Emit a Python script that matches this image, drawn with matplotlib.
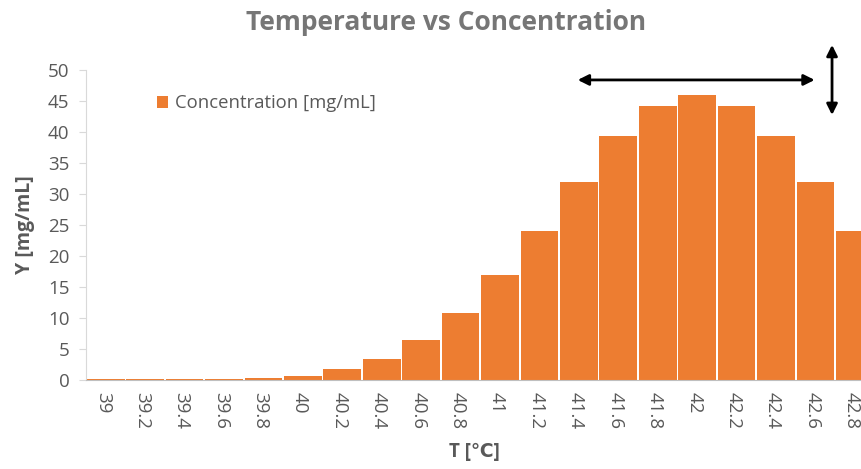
import numpy as np
import matplotlib.pyplot as plt
import matplotlib.transforms as mtransforms

plt.rcParams['font.family'] = ['Open Sans', 'DejaVu Sans']

temps = ['39', '39.2', '39.4', '39.6', '39.8', '40', '40.2', '40.4', '40.6', '40.8',
         '41', '41.2', '41.4', '41.6', '41.8', '42', '42.2', '42.4', '42.6', '42.8']
conc = [0.2, 0.2, 0.2, 0.2, 0.4, 0.7, 1.8, 3.4, 6.5, 10.8,
        17.0, 24.0, 32.0, 39.3, 44.2, 46.0, 44.2, 39.3, 32.0, 24.0]

grey = '#595959'
fig = plt.figure(figsize=(8.62, 4.69), dpi=100)
ax = fig.add_axes([0.0998, 0.1898, 0.9002, 0.6609])

x = np.arange(len(temps))
ax.bar(x, conc, width=0.955, color='#ED7D31', linewidth=0,
       label='Concentration [mg/mL]')

ax.set_xlim(-0.5, 19.18)
ax.set_ylim(0, 50)
ax.set_yticks(np.arange(0, 51, 5))
ax.set_xticks(x)
ax.set_xticklabels(temps, rotation=-90)
ax.tick_params(axis='y', colors='#d9d9d9', labelcolor=grey, labelsize=13.5, length=5, pad=7)
ax.tick_params(axis='x', length=0, labelcolor=grey, labelsize=13.5, pad=9)
shift = mtransforms.ScaledTranslation(-3 / 100, 0, fig.dpi_scale_trans)
for lab in ax.get_xticklabels():
    lab.set_transform(lab.get_transform() + shift)
for s in ['top', 'right']:
    ax.spines[s].set_visible(False)
ax.spines['left'].set_color('#d9d9d9')
ax.spines['bottom'].set_color('#bfbfbf')

ax.set_xlabel('T [℃]', fontsize=13.5, fontweight='bold', color=grey, labelpad=9)
ax.set_ylabel('Y [mg/mL]', fontsize=14, fontweight='bold', color=grey, labelpad=9)
fig.text(0.517, 0.951, 'Temperature vs Concentration', ha='center', va='center',
         fontsize=19, fontweight='bold', color='#767676')

leg = ax.legend(loc='upper left', bbox_to_anchor=(0.07, 0.975), frameon=False,
                fontsize=13.3, handlelength=0.6, handleheight=0.6, handletextpad=0.4)
for t in leg.get_texts():
    t.set_color(grey)

# double-headed arrows
ax.annotate('', xy=(11.9, 48.4), xytext=(18.05, 48.4),
            arrowprops=dict(arrowstyle='<|-|>', color='black', lw=2, mutation_scale=16),
            annotation_clip=False)
ax.annotate('', xy=(18.42, 54.5), xytext=(18.42, 42.3),
            arrowprops=dict(arrowstyle='<|-|>', color='black', lw=2, mutation_scale=16),
            annotation_clip=False)

fig.savefig('out.png', dpi=100)
